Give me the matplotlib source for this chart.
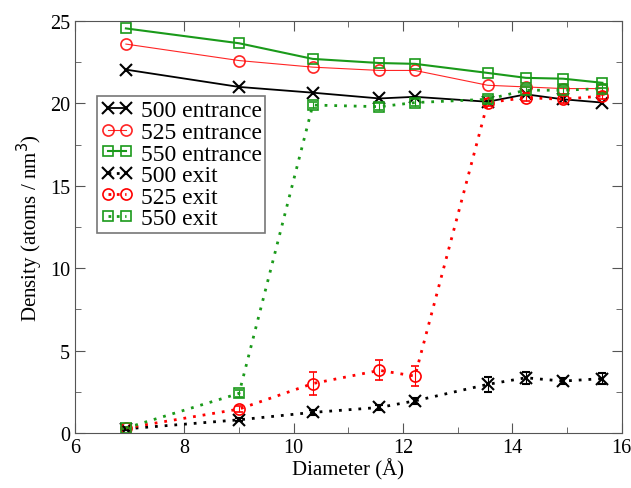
import numpy as np
import matplotlib.pyplot as plt
from matplotlib.lines import Line2D
from matplotlib.ticker import MultipleLocator

plt.rcParams['font.family'] = ['Liberation Serif', 'DejaVu Serif']

# diameters (Angstrom)
diam = [6.93, 9.0, 10.35, 11.57, 12.22, 13.55, 14.25, 14.93, 15.65]

# entrance densities
ent500 = [22.05, 21.0, 20.65, 20.3, 20.4, 20.1, 20.55, 20.25, 20.05]
ent525 = [23.6, 22.6, 22.2, 22.0, 22.0, 21.1, 21.0, 20.9, 20.9]
ent550 = [24.55, 23.65, 22.7, 22.45, 22.4, 21.85, 21.55, 21.5, 21.25]

# exit densities
ex500 = [0.25, 0.8, 1.25, 1.55, 1.95, 2.95, 3.35, 3.15, 3.3]
ex525 = [0.3, 1.45, 3.0, 3.8, 3.45, 20.05, 20.35, 20.25, 20.45]
ex550 = [0.3, 2.4, 19.9, 19.8, 20.05, 20.25, 20.8, 20.8, 20.9]

# error bars on exit series
err500 = [0.05, 0.1, 0.15, 0.15, 0.2, 0.45, 0.35, 0.2, 0.35]
err525 = [0.05, 0.2, 0.7, 0.6, 0.6, 0.2, 0.2, 0.2, 0.2]
err550 = [0.05, 0.2, 0.2, 0.2, 0.2, 0.2, 0.2, 0.2, 0.2]

labels = ['500 entrance', '525 entrance', '550 entrance',
          '500 exit', '525 exit', '550 exit']

BLACK = 'black'
RED = '#ff0000'
GREEN = '#1a9a1a'

fig = plt.figure(figsize=(6.31, 4.89), dpi=100)
ax = fig.add_axes([0.119, 0.1125, 0.866, 0.8425])

ms = 8
dot = (0, (1, 2.5))
styles = [
    dict(color=BLACK, lw=1.3, marker='x', ms=ms, mew=1.5, ls='-'),
    dict(color=RED, lw=0.8, alpha=0.85, marker='o', ms=ms, mfc='none', mew=1.2, ls='-'),
    dict(color=GREEN, lw=1.5, marker='s', ms=7, mfc='none', mew=1.2, ls='-'),
    dict(color=BLACK, lw=2, marker='x', ms=ms, mew=1.5, ls=dot),
    dict(color=RED, lw=2, marker='o', ms=ms, mfc='none', mew=1.2, ls=dot),
    dict(color=GREEN, lw=2, marker='s', ms=7, mfc='none', mew=1.2, ls=dot),
]

for y, st in zip([ent500, ent525, ent550], styles[:3]):
    ax.plot(diam, y, **st)

for y, e, st in zip([ex500, ex525, ex550], [err500, err525, err550], styles[3:]):
    ax.errorbar(diam, y, yerr=e, capsize=3, elinewidth=0.8, **st)

ax.set_xlim(6, 16)
ax.set_ylim(0, 25)
ax.xaxis.set_major_locator(MultipleLocator(2))
ax.xaxis.set_minor_locator(MultipleLocator(1))
ax.yaxis.set_major_locator(MultipleLocator(5))
ax.yaxis.set_minor_locator(MultipleLocator(2.5))
ax.tick_params(which='both', direction='in', top=True, right=True,
               labelsize=14.5, color='#555555')
ax.tick_params(which='major', length=7)
ax.tick_params(which='minor', length=4)
for s in ax.spines.values():
    s.set_color('#555555')

ax.set_xlabel('Diameter (Å)', fontsize=15, labelpad=1)
ax.set_ylabel('Density (atoms / nm$^3$)', fontsize=15, labelpad=4)

handles = []
for st in styles:
    d = dict(st)
    if d['ls'] == dot:
        d['ls'] = (0, (1, 2))
    handles.append(Line2D([], [], **d))
leg = ax.legend(handles, labels, loc='upper left', bbox_to_anchor=(0.04, 0.817),
                fontsize=17, frameon=True, fancybox=False, edgecolor='#555555',
                numpoints=2, handlelength=1.4, handletextpad=0.3,
                borderpad=0.15, labelspacing=0.0, borderaxespad=0)
leg.get_frame().set_linewidth(1.2)

fig.savefig('out.png', dpi=100)
